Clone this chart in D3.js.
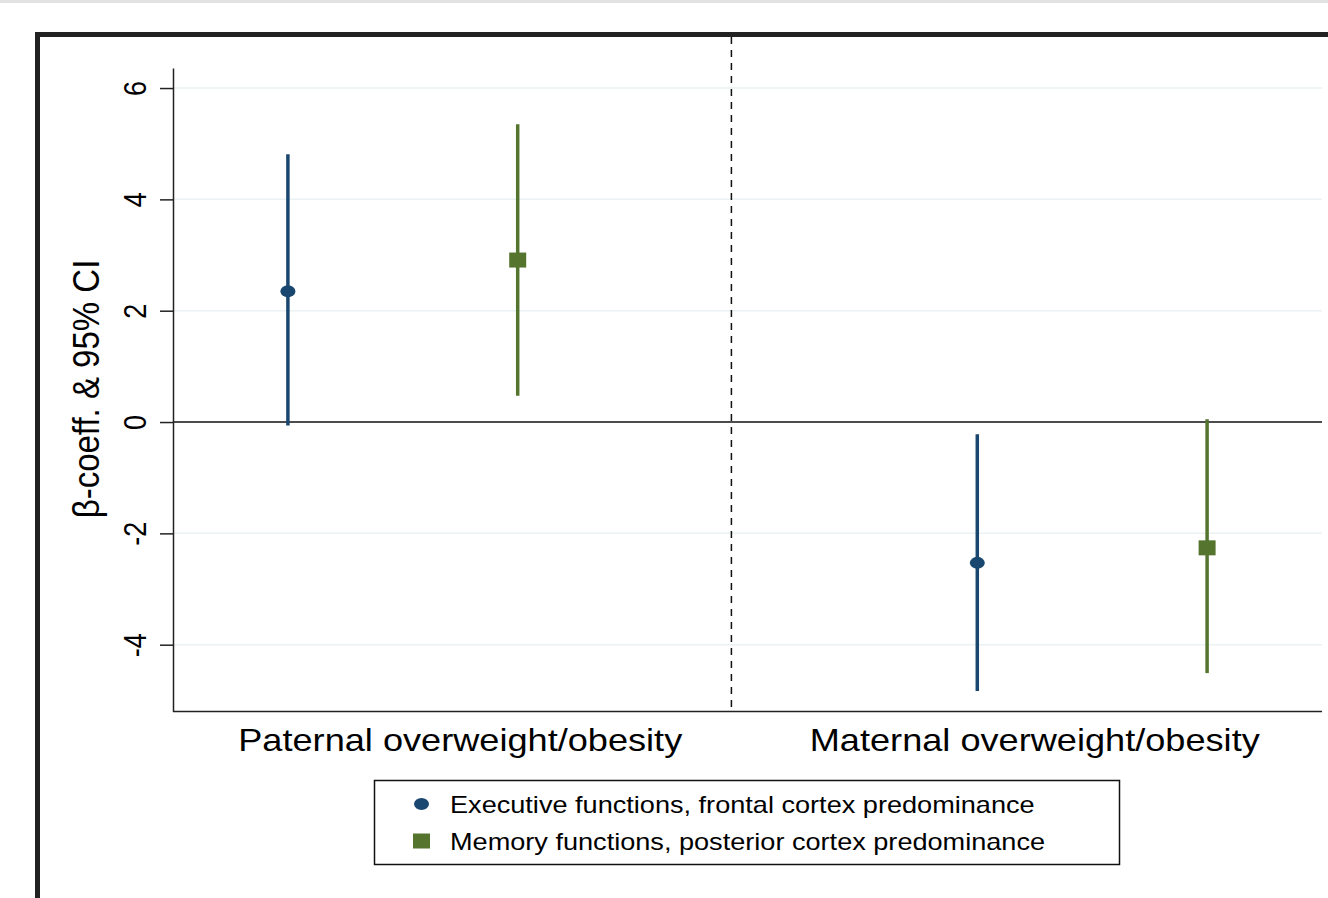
<!DOCTYPE html>
<html>
<head>
<meta charset="utf-8">
<script src="https://cdn.jsdelivr.net/npm/d3@7"></script>
<style>
  html, body { margin: 0; padding: 0; background: #fff; }
  svg { display: block; }
  text { font-family: "Liberation Sans", Arial, sans-serif; fill: #000; }
</style>
</head>
<body>
<svg id="chart" width="1328" height="898"></svg>
<script>
// ---- data ----
const groups = ["Paternal overweight/obesity", "Maternal overweight/obesity"];
const groupLabelPos = [1.75, 4.25];
const dividerPos = 2.93;
const seriesNames = ["Executive functions, frontal cortex predominance",
                     "Memory functions, posterior cortex predominance"];
const seriesColors = ["#1a476f", "#55752f"];
const xPositions = [[1, 4], [2, 5]];          // series x group positions
const estimates = [[2.35, -2.53], [2.91, -2.26]];
const lowerCI   = [[-0.06, -4.83], [0.47, -4.51]];
const upperCI   = [[4.81, -0.22], [5.35, 0.05]];
const yTicks = [-4, -2, 0, 2, 4, 6];
const yTickLabels = ["-4", "-2", "0", "2", "4", "6"];
const yTitle = "β-coeff. & 95% CI";

// ---- layout ----
const SX = 1.13; // horizontal text stretch seen in the reference
const svg = d3.select("#chart");
const x = d3.scaleLinear().domain([0.5, 5.5]).range([173, 1322]);
const y = d3.scaleLinear().domain([-5.2, 6.36]).range([711.5, 68]);

// top gray strip
svg.append("rect").attr("x", 0).attr("y", 0).attr("width", 1328).attr("height", 3).attr("fill", "#e2e2e2");
// thick frame (runs off canvas right and bottom)
svg.append("rect").attr("x", 37.5).attr("y", 34.5).attr("width", 1400).attr("height", 1000)
  .attr("fill", "none").attr("stroke", "#222").attr("stroke-width", 5);

// gridlines
svg.append("g").selectAll("line").data(yTicks.filter(d => d !== 0)).join("line")
  .attr("x1", x(0.5)).attr("x2", x(5.5))
  .attr("y1", d => y(d)).attr("y2", d => y(d))
  .attr("stroke", "#eaf2f3").attr("stroke-width", 1.5);

// zero line
svg.append("line").attr("x1", x(0.5)).attr("x2", x(5.5)).attr("y1", y(0)).attr("y2", y(0))
  .attr("stroke", "#111").attr("stroke-width", 1.5);

// divider
svg.append("line").attr("x1", x(dividerPos)).attr("x2", x(dividerPos))
  .attr("y1", 37).attr("y2", y(-5.2))
  .attr("stroke", "#111").attr("stroke-width", 1.5).attr("stroke-dasharray", "7,6");

// y axis
const yAxis = svg.append("g").attr("transform", `translate(${x(0.5)},0)`)
  .call(d3.axisLeft(y).tickValues(yTicks).tickSize(13).tickSizeOuter(0)
    .tickFormat((d, i) => yTickLabels[i]));
yAxis.select(".domain").attr("stroke", "#222").attr("stroke-width", 1.5);
yAxis.selectAll(".tick line").attr("stroke", "#222").attr("stroke-width", 1.5);
yAxis.selectAll(".tick text")
  .attr("x", null).attr("dy", null)
  .attr("transform", `translate(-27,0) scale(${SX},1) rotate(-90)`)
  .attr("text-anchor", "middle")
  .style("font-size", "27px")
  .style("font-family", '"Liberation Sans", Arial, sans-serif')
  .attr("fill", "#000");

// x axis line
svg.append("line").attr("x1", x(0.5)).attr("x2", x(5.5)).attr("y1", y(-5.2)).attr("y2", y(-5.2))
  .attr("stroke", "#222").attr("stroke-width", 1.5);

// group labels
svg.append("g").selectAll("text").data(groups).join("text")
  .attr("transform", (d, i) => `translate(${x(groupLabelPos[i])},751) scale(${SX},1)`)
  .attr("text-anchor", "middle").style("font-size", "32px").text(d => d);

// y title
svg.append("text")
  .attr("transform", `translate(99,389) scale(${SX},1) rotate(-90)`)
  .attr("text-anchor", "middle").style("font-size", "33px").text(yTitle);

// CI lines and markers
seriesNames.forEach((name, s) => {
  const g = svg.append("g");
  const pts = xPositions[s].map((xp, i) => ({ xp, est: estimates[s][i], lo: lowerCI[s][i], hi: upperCI[s][i] }));
  g.selectAll("line").data(pts).join("line")
    .attr("x1", d => x(d.xp)).attr("x2", d => x(d.xp))
    .attr("y1", d => y(d.lo)).attr("y2", d => y(d.hi))
    .attr("stroke", seriesColors[s]).attr("stroke-width", 3.5);
  if (s === 0) {
    g.selectAll("ellipse").data(pts).join("ellipse")
      .attr("cx", d => x(d.xp)).attr("cy", d => y(d.est))
      .attr("rx", 7.5).attr("ry", 6).attr("fill", seriesColors[s]);
  } else {
    g.selectAll("rect").data(pts).join("rect")
      .attr("x", d => x(d.xp) - 8.5).attr("y", d => y(d.est) - 7.5)
      .attr("width", 17).attr("height", 15).attr("fill", seriesColors[s]);
  }
});

// legend
const lg = svg.append("g");
lg.append("rect").attr("x", 374.5).attr("y", 780.5).attr("width", 745).attr("height", 84)
  .attr("fill", "#fff").attr("stroke", "#111").attr("stroke-width", 1.5);
const legendRows = [804, 841];
seriesNames.forEach((name, s) => {
  if (s === 0) {
    lg.append("ellipse").attr("cx", 421.5).attr("cy", legendRows[s]).attr("rx", 7.5).attr("ry", 6)
      .attr("fill", seriesColors[s]);
  } else {
    lg.append("rect").attr("x", 413).attr("y", legendRows[s] - 7.5).attr("width", 17).attr("height", 15)
      .attr("fill", seriesColors[s]);
  }
  lg.append("text").attr("transform", `translate(450,${legendRows[s] + 9}) scale(${SX},1)`)
    .style("font-size", "24px").text(name);
});
</script>
</body>
</html>
